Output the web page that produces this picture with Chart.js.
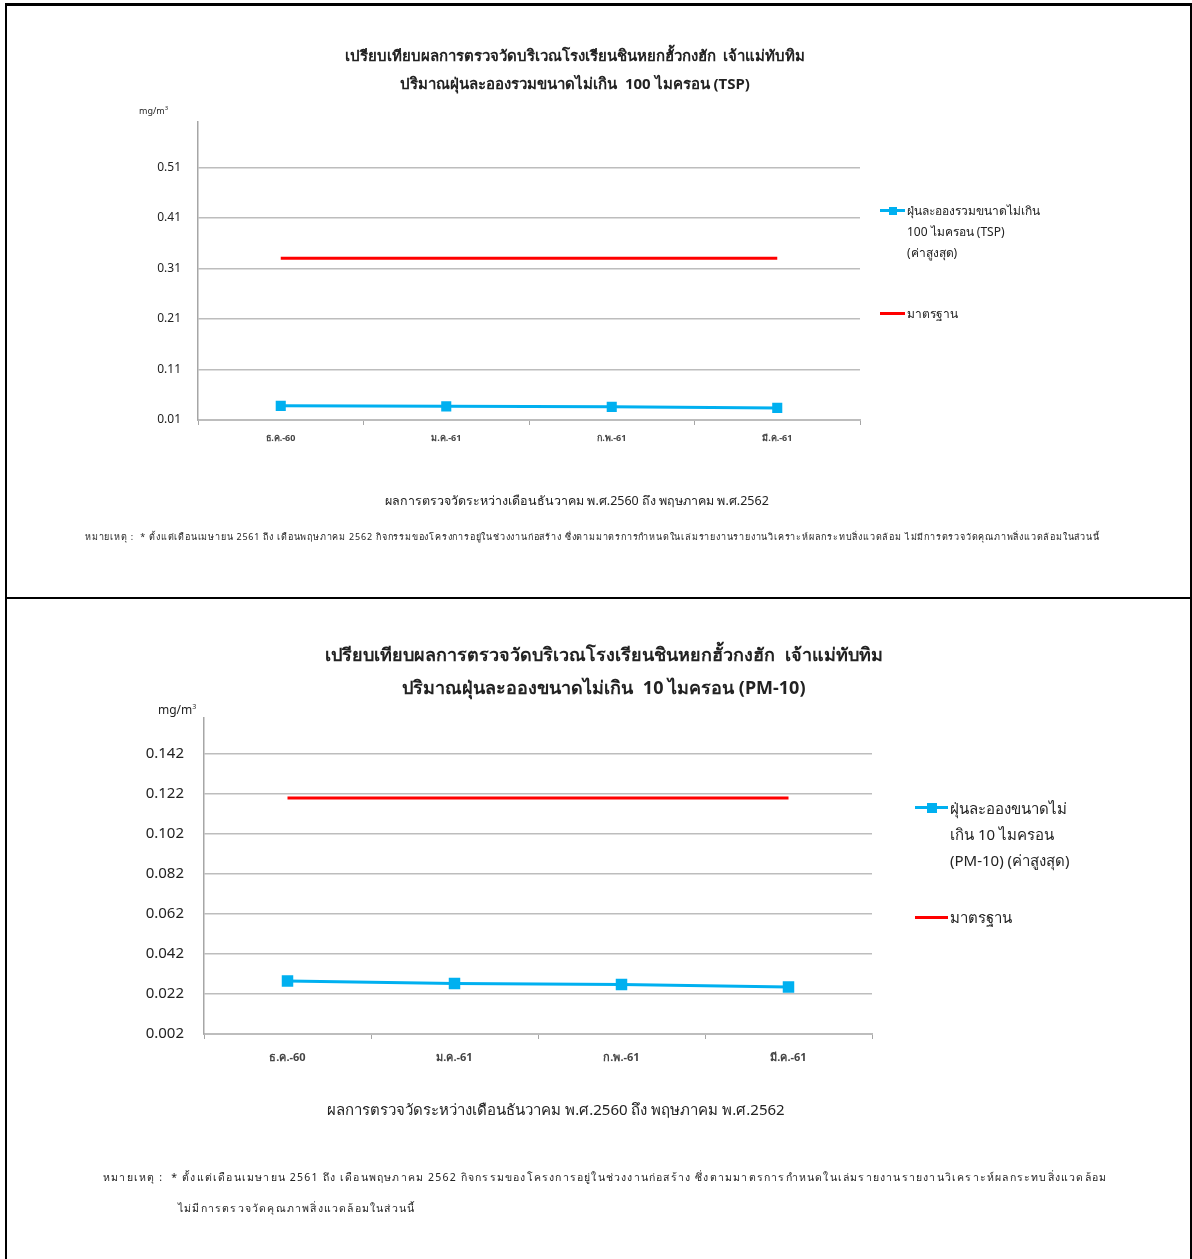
<!DOCTYPE html>
<html>
<head>
<meta charset="utf-8">
<script src="https://cdn.jsdelivr.net/npm/chart.js@4"></script>
<style>
  body { margin: 0; background: #fff; font-family: 'Noto Sans', 'DejaVu Sans', sans-serif; color: #222; }
  #page { position: relative; width: 1192px; height: 1259px; overflow: hidden; }
  .panel { position: absolute; left: 5px; width: 1183px; border-left: 2px solid #000; border-right: 2px solid #000; }
  .txt { position: absolute; white-space: nowrap; }
  .center { transform: translateX(-50%); }
  .sym { position: absolute; height: 3px; }
  .sym i { position: absolute; top: 50%; left: 50%; transform: translate(-50%, -50%); background: #00b0f0; }
  canvas { position: absolute; left: 0; }
</style>
</head>
<body>
<div id="page">
  <div class="panel" style="top:3px;height:591px;border-top:3px solid #000;border-bottom:2px solid #000;"></div>
  <div class="panel" style="top:596px;height:663px;"></div>

  <!-- chart 1 -->
  <canvas id="tspChart" style="top:0;"></canvas>
  <div class="txt center" style="left:575px;top:44px;font-size:15px;font-weight:bold;">เปรียบเทียบผลการตรวจวัดบริเวณโรงเรียนชินหยกฮั้วกงฮัก&nbsp; เจ้าแม่ทับทิม</div>
  <div class="txt center" style="left:575px;top:72px;font-size:15px;font-weight:bold;">ปริมาณฝุ่นละอองรวมขนาดไม่เกิน&nbsp; 100 ไมครอน (TSP)</div>
  <div class="txt" style="left:139px;top:104px;font-size:9px;">mg/m<sup style="font-size:6px">3</sup></div>
  <div class="sym" style="left:880px;top:209px;width:25px;background:#00b0f0;"><i style="width:8px;height:8px;"></i></div>
  <div class="txt" style="left:907px;top:200px;font-size:12px;line-height:21px;">ฝุ่นละอองรวมขนาดไม่เกิน<br>100 ไมครอน (TSP)<br>(ค่าสูงสุด)</div>
  <div class="sym" style="left:880px;top:312px;width:25px;background:#ff0000;"></div>
  <div class="txt" style="left:907px;top:304px;font-size:12px;">มาตรฐาน</div>
  <div class="txt center" style="left:577px;top:491px;font-size:12.5px;">ผลการตรวจวัดระหว่างเดือนธันวาคม พ.ศ.2560 ถึง พฤษภาคม พ.ศ.2562</div>
  <div class="txt" style="left:85px;top:530px;font-size:9px;letter-spacing:0.8px;">หมายเหตุ :&nbsp; * ตั้งแต่เดือนเมษายน 2561 ถึง เดือนพฤษภาคม 2562 กิจกรรมของโครงการอยู่ในช่วงงานก่อสร้าง ซึ่งตามมาตรการกำหนดในเล่มรายงานรายงานวิเคราะห์ผลกระทบสิ่งแวดล้อม ไม่มีการตรวจวัดคุณภาพสิ่งแวดล้อมในส่วนนี้</div>

  <!-- chart 2 -->
  <canvas id="pmChart" style="top:597px;"></canvas>
  <div class="txt center" style="left:604px;top:640px;font-size:18px;font-weight:bold;">เปรียบเทียบผลการตรวจวัดบริเวณโรงเรียนชินหยกฮั้วกงฮัก&nbsp; เจ้าแม่ทับทิม</div>
  <div class="txt center" style="left:604px;top:673px;font-size:18px;font-weight:bold;">ปริมาณฝุ่นละอองขนาดไม่เกิน&nbsp; 10 ไมครอน (PM-10)</div>
  <div class="txt" style="left:158px;top:701px;font-size:12px;">mg/m<sup style="font-size:7px">3</sup></div>
  <div class="sym" style="left:915px;top:806px;width:33px;background:#00b0f0;"><i style="width:10px;height:10px;"></i></div>
  <div class="txt" style="left:950px;top:795px;font-size:15px;line-height:26px;">ฝุ่นละอองขนาดไม่<br>เกิน 10 ไมครอน<br>(PM-10) (ค่าสูงสุด)</div>
  <div class="sym" style="left:915px;top:916px;width:33px;background:#ff0000;"></div>
  <div class="txt" style="left:950px;top:906px;font-size:15px;">มาตรฐาน</div>
  <div class="txt center" style="left:556px;top:1098px;font-size:15px;">ผลการตรวจวัดระหว่างเดือนธันวาคม พ.ศ.2560 ถึง พฤษภาคม พ.ศ.2562</div>
  <div class="txt" style="left:103px;top:1169px;font-size:10.5px;letter-spacing:1.2px;">หมายเหตุ :&nbsp; * ตั้งแต่เดือนเมษายน 2561 ถึง เดือนพฤษภาคม 2562 กิจกรรมของโครงการอยู่ในช่วงงานก่อสร้าง ซึ่งตามมาตรการกำหนดในเล่มรายงานรายงานวิเคราะห์ผลกระทบสิ่งแวดล้อม</div>
  <div class="txt" style="left:178px;top:1200px;font-size:10.5px;letter-spacing:1.2px;">ไม่มีการตรวจวัดคุณภาพสิ่งแวดล้อมในส่วนนี้</div>
</div>

<script>
// categories (months)
const months = ['ธ.ค.-60', 'ม.ค.-61', 'ก.พ.-61', 'มี.ค.-61'];

// TSP chart
const tspMax = [0.038, 0.037, 0.036, 0.034];
const tspStandard = [0.33, 0.33, 0.33, 0.33];
const tspTicks = [0.01, 0.11, 0.21, 0.31, 0.41, 0.51];

// PM-10 chart
const pmMax = [0.0285, 0.0273, 0.0268, 0.0255];
const pmStandard = [0.12, 0.12, 0.12, 0.12];
const pmTicks = [0.002, 0.022, 0.042, 0.062, 0.082, 0.102, 0.122, 0.142];

Chart.defaults.font.family = "'Noto Sans', 'DejaVu Sans', sans-serif";
Chart.defaults.color = '#222';

function makeChart(id, w, h, values, standard, ticks, s) {
  const canvas = document.getElementById(id);
  canvas.width = w;
  canvas.height = h;
  canvas.style.width = w + 'px';
  canvas.style.height = h + 'px';

  return new Chart(canvas.getContext('2d'), {
    type: 'line',
    data: {
      labels: months,
      datasets: [
        {
          label: 'ค่าสูงสุด',
          data: values,
          borderColor: '#00b0f0',
          backgroundColor: '#00b0f0',
          borderWidth: 3,
          pointStyle: 'rect',
          pointRadius: s.pointRadius,
          pointHoverRadius: s.pointRadius,
          tension: 0
        },
        {
          label: 'มาตรฐาน',
          data: standard,
          borderColor: '#ff0000',
          backgroundColor: '#ff0000',
          borderWidth: 3,
          pointRadius: 0,
          tension: 0
        }
      ]
    },
    options: {
      responsive: false,
      animation: false,
      layout: { padding: { left: 0, top: s.top, right: w - s.right, bottom: s.padBottom } },
      plugins: { legend: { display: false }, tooltip: { enabled: false } },
      scales: {
        x: {
          offset: true,
          grid: { offset: true, drawOnChartArea: false, drawTicks: true, tickLength: 5, color: '#a6a6a6', lineWidth: 1 },
          border: { color: '#bdbdbd', width: 2 },
          ticks: { font: { size: s.xFont, weight: 'bold' }, color: '#444', padding: s.xPad, maxRotation: 0 },
          afterFit: a => { a.height = s.xHeight; }
        },
        y: {
          min: ticks[0],
          max: s.max,
          grid: { drawTicks: false, color: '#bdbdbd', lineWidth: 1.5 },
          border: { color: '#a6a6a6', width: 1.5 },
          ticks: {
            font: { size: s.yFont },
            color: '#222',
            padding: s.yPad,
            callback: v => v.toFixed(s.digits)
          },
          afterBuildTicks: a => { a.ticks = ticks.map(v => ({ value: v })); },
          afterFit: a => { a.width = s.left; }
        }
      }
    }
  });
}

makeChart('tspChart', 1192, 596, tspMax, tspStandard, tspTicks, {
  top: 122, right: 860, left: 198, max: 0.6,
  xHeight: 40, padBottom: 136, xFont: 9, xPad: 8,
  yFont: 12, yPad: 17, digits: 2, pointRadius: 5
});

makeChart('pmChart', 1192, 662, pmMax, pmStandard, pmTicks, {
  top: 121, right: 872, left: 204, max: 0.16,
  xHeight: 40, padBottom: 185, xFont: 11, xPad: 12,
  yFont: 15, yPad: 20, digits: 3, pointRadius: 6
});
</script>
</body>
</html>
